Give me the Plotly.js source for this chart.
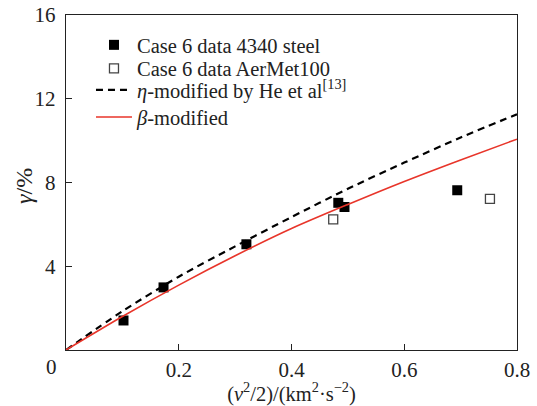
<!DOCTYPE html>
<html>
<head>
<meta charset="utf-8">
<script src="https://cdn.plot.ly/plotly-3.0.1.min.js"></script>
<style>
  html, body { margin: 0; padding: 0; background: #fff; }
  #chart { width: 537px; height: 406px; }
</style>
</head>
<body>
<div id="chart"></div>
<script>
// Measured data: shear strain vs. specific kinetic energy
const steelX = [0.102, 0.173, 0.320, 0.483, 0.494, 0.694];
const steelY = [1.41, 2.99, 5.05, 7.03, 6.83, 7.63];
const aermetX = [0.474, 0.752];
const aermetY = [6.24, 7.22];

// Model curves
const curveX = [0, 0.1, 0.2, 0.3, 0.4, 0.5, 0.6, 0.7, 0.8];
const etaY = [0, 1.85, 3.5, 4.95, 6.35, 7.7, 8.95, 10.15, 11.26];
const betaY = [0, 1.6, 3.1, 4.5, 5.8, 6.95, 8.05, 9.08, 10.07];

// Tick labels (the shared origin "0" is drawn once at the corner)
const xTicks = [0.2, 0.4, 0.6, 0.8];
const xTickText = ['0.2', '0.4', '0.6', '0.8'];
const yTicks = [4, 8, 12, 16];
const yTickText = ['4', '8', '12', '16'];

const serif = 'Liberation Serif';
const ink = '#222';

const traces = [
  {
    x: steelX, y: steelY, type: 'scatter', mode: 'markers',
    name: 'Case 6 data 4340 steel', legend: 'legend',
    marker: { symbol: 'square', size: 10, color: '#000', line: { width: 0 } }
  },
  {
    x: aermetX, y: aermetY, type: 'scatter', mode: 'markers',
    name: 'Case 6 data AerMet100', legend: 'legend2',
    marker: { symbol: 'square-open', size: 9, color: '#444', line: { width: 1.3 } }
  },
  {
    x: curveX, y: etaY, type: 'scatter', mode: 'lines',
    name: '<i>η</i>-modified by He et al<sup>[13]</sup>', legend: 'legend3',
    line: { color: '#000', width: 2.2, dash: '7px,5px', shape: 'spline', smoothing: 0.8 }
  },
  {
    x: curveX, y: betaY, type: 'scatter', mode: 'lines',
    name: '<i>β</i>-modified', legend: 'legend4',
    line: { color: '#e8352a', width: 1.6, shape: 'spline', smoothing: 0.8 }
  }
];

// One single-entry legend per row so each row sits at its own height
function legendRow(yPaper) {
  return {
    x: 0.0554, y: yPaper, xanchor: 'left', yanchor: 'middle',
    bgcolor: 'rgba(0,0,0,0)', borderwidth: 0, itemwidth: 36,
    font: { family: serif, size: 20.5, color: ink }
  };
}

const layout = {
  width: 537, height: 406,
  margin: { l: 66, r: 20, t: 15, b: 56 },
  paper_bgcolor: '#fff', plot_bgcolor: '#fff',
  font: { family: serif, size: 21, color: ink },
  showlegend: true,
  legend: legendRow(0.9104),
  legend2: legendRow(0.8403),
  legend3: legendRow(0.776),
  legend4: legendRow(0.695),
  xaxis: {
    range: [0, 0.8], showgrid: false, zeroline: false,
    showline: true, linecolor: ink, linewidth: 1.3, mirror: true,
    ticks: 'inside', ticklen: 6, tickcolor: ink, tickwidth: 1.2,
    tickvals: xTicks, ticktext: xTickText,
    tickfont: { family: serif, size: 21, color: ink },
    title: { text: '(<i>v</i><sup>2</sup>/2)/(km<sup>2</sup>·s<sup>−2</sup>)',
             font: { family: serif, size: 20.5, color: ink }, standoff: 4 }
  },
  yaxis: {
    range: [0, 16], showgrid: false, zeroline: false,
    showline: true, linecolor: ink, linewidth: 1.3, mirror: true,
    ticks: 'inside', ticklen: 6, tickcolor: ink, tickwidth: 1.2,
    tickvals: yTicks, ticktext: yTickText,
    ticklabelstandoff: 5,
    tickfont: { family: serif, size: 21, color: ink }
  },
  annotations: [
    // shared origin label
    { text: '0', xref: 'paper', yref: 'paper', x: -0.033, y: -0.05,
      xanchor: 'center', yanchor: 'middle', showarrow: false,
      font: { family: serif, size: 21, color: ink } },
    // y-axis title
    { text: '<i>γ</i>/%', xref: 'paper', yref: 'paper', x: -0.0931, y: 0.4896,
      xanchor: 'center', yanchor: 'middle', textangle: -90, showarrow: false,
      font: { family: serif, size: 24, color: ink } }
  ]
};

Plotly.newPlot('chart', traces, layout, { displayModeBar: false, staticPlot: true });
</script>
</body>
</html>
